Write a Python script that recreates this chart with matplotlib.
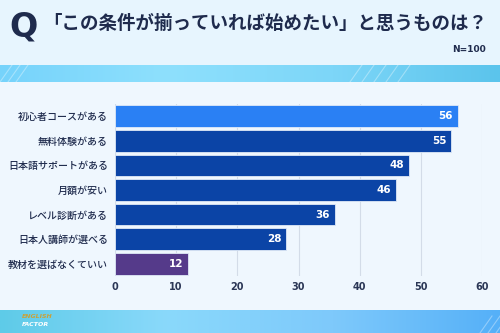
import numpy as np
import matplotlib.pyplot as plt
from matplotlib.colors import LinearSegmentedColormap

plt.rcParams['font.family'] = ['Noto Sans CJK JP', 'DejaVu Sans']

#### Donnees ####
categories = ['初心者コースがある', '無料体験がある', '日本語サポートがある', '月額が安い',
              'レベル診断がある', '日本人講師が選べる', '教材を選ばなくていい']
valeurs = [56, 55, 48, 46, 36, 28, 12]
couleurs = ['#2a80f4', '#0b44a6', '#0b44a6', '#0b44a6', '#0b44a6', '#0b44a6', '#553a8a']
ticks = [0, 10, 20, 30, 40, 50, 60]
titre = '「この条件が揃っていれば始めたい」と思うものは？'
##################

W, H = 500, 333
fig = plt.figure(figsize=(5, 3.33), dpi=100)

#### Fond ####
bg = fig.add_axes([0, 0, 1, 1])
bg.set_xlim(0, W)
bg.set_ylim(H, 0)
bg.axis('off')
bg.add_patch(plt.Rectangle((0, 0), W, 65, color='#e7f5fe', lw=0))
bg.add_patch(plt.Rectangle((0, 82), W, 228, color='#eff7fe', lw=0))

grad1 = LinearSegmentedColormap.from_list('g1', ['#76d3fb', '#8ee0fd', '#7dd6f8', '#5bc4ec'])
bg.imshow(np.linspace(0, 1, 256)[None, :], cmap=grad1, extent=(0, W, 82, 65), aspect='auto')
grad2 = LinearSegmentedColormap.from_list('g2', ['#5ecbe8', '#8ad9fb', '#7ec9fb', '#55b0f8'])
bg.imshow(np.linspace(0, 1, 256)[None, :], cmap=grad2, extent=(0, W, H, 310), aspect='auto')
# petites hachures
for x0 in [0, 8, 16, 350, 362, 374, 386, 398, 480, 488, 496]:
    y0, y1 = (82, 65) if x0 < 450 else (H, 316)
    bg.plot([x0, x0 + 12], [y0, y1], color='white', alpha=0.35, lw=0.8)
bg.set_xlim(0, W)
bg.set_ylim(H, 0)

#### Titre ####
fig.text(9 / W, 1 - 27 / H, 'Q', fontsize=24, fontweight='bold', color='#1f2b4d',
         va='center', ha='left', family='DejaVu Sans')
fig.text(43 / W, 1 - 23 / H, titre, fontsize=13.3, fontweight='bold', color='#1f2b4d',
         va='center', ha='left')
fig.text(486 / W, 1 - 49 / H, 'N=100', fontsize=6.5, fontweight='bold', color='#1f2b4d',
         va='center', ha='right', family='DejaVu Sans')
fig.text(22 / W, 1 - 316 / H, 'ENGLISH', fontsize=4.5, fontweight='bold', style='italic',
         color='#c9a23a', va='center', ha='left', family='DejaVu Sans')
fig.text(22 / W, 1 - 325 / H, 'FACTOR', fontsize=4.5, fontweight='bold', style='italic',
         color='white', va='center', ha='left', family='DejaVu Sans')

#### Graphique ####
ax = fig.add_axes([115 / W, 1 - 276 / H, 367 / W, 172 / H])
ax.patch.set_alpha(0)
y = np.arange(len(categories))
ax.barh(y, valeurs, height=0.88, color=couleurs, edgecolor='#dfe9f7', linewidth=0.6, zorder=3)
for yi, v in zip(y, valeurs):
    ax.text(v - 0.8, yi, str(v), color='white', fontsize=7.5, fontweight='bold',
            ha='right', va='center', zorder=4, family='DejaVu Sans')

ax.set_xlim(0, 60)
ax.set_ylim(len(categories) - 0.5, -0.5)
ax.set_xticks(ticks)
ax.set_xticklabels([str(t) for t in ticks], family='DejaVu Sans', fontweight='bold')
ax.set_yticks(y)
ax.set_yticklabels(categories, fontweight='medium')
ax.tick_params(axis='x', length=0, pad=4, labelsize=7, labelcolor='#2b3756')
ax.tick_params(axis='y', length=0, pad=5, labelsize=7.2, labelcolor='#1f2b4d')
ax.grid(axis='x', color='#d3dce8', lw=0.8, zorder=0)
for s in ax.spines.values():
    s.set_visible(False)

fig.savefig('out.png', dpi=100)
